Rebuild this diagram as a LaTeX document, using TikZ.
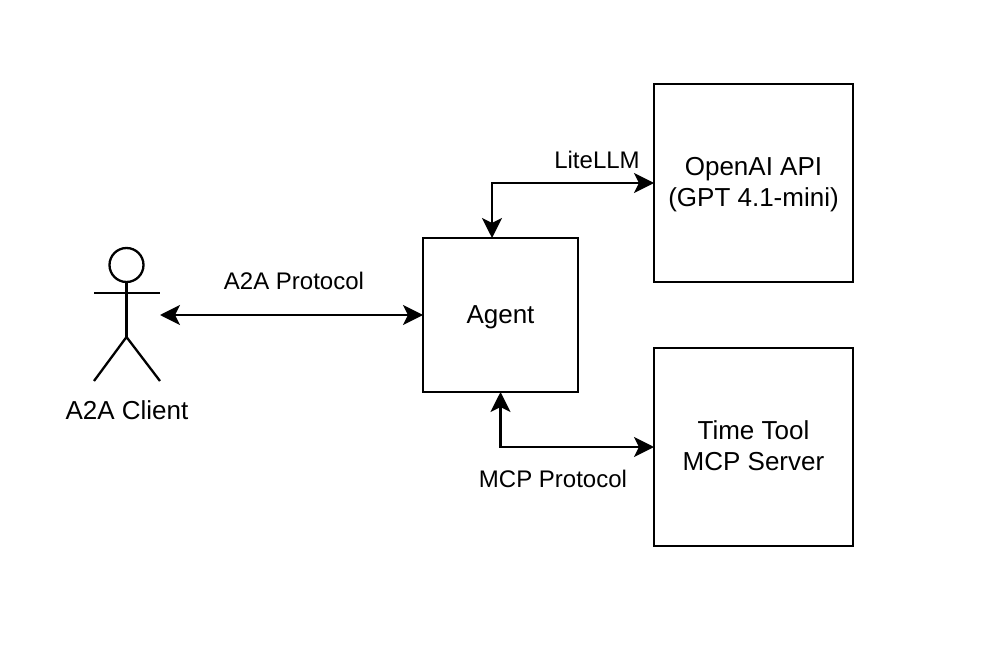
\documentclass[tikz,border=0pt]{standalone}
\usepackage{fontspec}
\setmainfont{Liberation Sans}
\usetikzlibrary{arrows.meta}

\tikzset{
  box/.style={draw=black, line width=2.3pt, outer sep=0, inner sep=0, align=center, font=\fontsize{26}{31}\selectfont},
  lbl/.style={inner sep=0, font=\fontsize{24}{29}\selectfont},
  link/.style={black, line width=2.3pt, <->, >={Stealth[length=20pt,width=20pt,inset=5pt]}},
  stick/.style={black, line width=2.3pt},
}

\begin{document}
\begin{tikzpicture}[x=1pt,y=-1pt]
\useasboundingbox (0,0) rectangle (982,668);
% boxes
\node[box, minimum width=155pt, minimum height=154pt] (agent) at (500.5,315) {\raisebox{-8.6pt}[0pt][0pt]{Agent}};
\node[box, minimum width=199pt, minimum height=198pt] (openai) at (753.5,183) {\rule{0pt}{21pt}OpenAI API\\(GPT 4.1-mini)};
\node[box, minimum width=199pt, minimum height=198pt] (timetool) at (753.5,447) {Time Tool\\\rule[-2pt]{0pt}{1pt}MCP Server};
% actor
\node[draw=black, line width=2.3pt, circle, minimum size=34pt, inner sep=0, outer sep=0] (head) at (126.5,265) {};
\coordinate (hip) at (126.5,337);
\draw[stick] (head.south) -- (hip);
\draw[stick] (94,293) -- (160,293);
\draw[stick] (94,381) -- (hip) -- (160,381);
\node[inner sep=0, font=\fontsize{26}{31}\selectfont] (client) at (127,410) {A2A Client};
% connectors
\coordinate (clientend) at (160,315);
\draw[link] (clientend) -- (agent.west);
\draw[link] ([xshift=-8.5pt]agent.north) |- (openai.west);
\draw[link] (agent.south) |- (timetool.west);
% labels
\node[lbl] (a2a) at (294,281) {A2A Protocol};
\node[lbl] (litellm) at (597,160) {LiteLLM};
\node[lbl] (mcp) at (553,479) {MCP Protocol};
\end{tikzpicture}
\end{document}
